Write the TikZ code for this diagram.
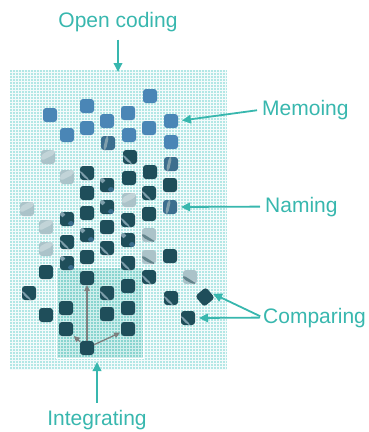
\documentclass[tikz,border=0pt]{standalone}
\usepackage{fontspec}
\setmainfont{Liberation Sans}
\usetikzlibrary{arrows.meta}

\definecolor{tealink}{HTML}{38B7AE}
\definecolor{dotbg}{HTML}{B3E7E5}
\definecolor{boxbg}{HTML}{88D4CF}
\definecolor{sqblue}{HTML}{4A86B6}
\definecolor{sqdark}{HTML}{1F4E5A}
\definecolor{sqmid}{HTML}{3B6E8E}
\definecolor{sqlite}{HTML}{7F9FAC}
\definecolor{sqfade}{HTML}{ABC3C9}
\definecolor{sqpale}{HTML}{C2D4D8}
\definecolor{arrgray}{HTML}{7F7F7F}

\begin{document}
\begin{tikzpicture}[x=1pt,y=-1pt,
  sq/.style={rounded corners=3pt, minimum size=14pt, inner sep=0pt, outer sep=0pt},
  blu/.style={sq, fill=sqblue},
  drk/.style={sq, fill=sqdark},
  shotA/.style={sq, fill=sqdark, path picture={
    \fill[sqlite] ([shift={(-7pt,0pt)}]path picture bounding box.center)
      -- ([shift={(0pt,-7pt)}]path picture bounding box.center)
      -- ([shift={(3pt,-7pt)}]path picture bounding box.center)
      -- ([shift={(-7pt,3pt)}]path picture bounding box.center) -- cycle;}},
  shotB/.style={sq, fill=sqdark, path picture={
    \fill[sqlite] ([shift={(-7pt,7pt)}]path picture bounding box.center)
      rectangle ([shift={(-2pt,2pt)}]path picture bounding box.center);
    \fill[sqmid] ([shift={(1pt,-2pt)}]path picture bounding box.center)
      rectangle ([shift={(7pt,-7pt)}]path picture bounding box.center);}},
  shotC/.style={sq, fill=sqmid, path picture={
    \fill[sqlite] ([shift={(-2pt,7pt)}]path picture bounding box.center)
      -- ([shift={(1pt,7pt)}]path picture bounding box.center)
      -- ([shift={(-2pt,-7pt)}]path picture bounding box.center)
      -- ([shift={(-5pt,-7pt)}]path picture bounding box.center) -- cycle;}},
  fade/.style={sq, fill=sqfade, path picture={
    \fill[sqpale] ([shift={(-7pt,2pt)}]path picture bounding box.center)
      -- ([shift={(2pt,7pt)}]path picture bounding box.center)
      -- ([shift={(7pt,7pt)}]path picture bounding box.center)
      -- ([shift={(7pt,3pt)}]path picture bounding box.center)
      -- ([shift={(-7pt,-4pt)}]path picture bounding box.center) -- cycle;}},
  fadeA/.style={sq, fill=sqfade, path picture={
    \fill[sqdark!70] ([shift={(-7pt,-2pt)}]path picture bounding box.center)
      -- ([shift={(3pt,-7pt)}]path picture bounding box.center)
      -- ([shift={(7pt,-7pt)}]path picture bounding box.center)
      -- ([shift={(-7pt,2pt)}]path picture bounding box.center) -- cycle;}},
  lbl/.style={font=\fontsize{21}{25}\selectfont, text=tealink, inner sep=0pt},
  callout/.style={draw=tealink, line width=1.8pt, -{Triangle[length=9pt,width=8.5pt]}},
  link/.style={draw=arrgray, line width=1.3pt, -{Triangle[length=6pt,width=5.5pt]}}
]
\useasboundingbox (0,0) rectangle (368,432);

% dotted backdrop
\fill[dotbg] (10,70) rectangle (227,370);
\draw[white!85!dotbg, line width=0.5pt, step=3pt] (10,70) grid (227,370);

% highlighted integration area
\fill[boxbg] (56,267) rectangle (143,358);
\draw[white!60!boxbg, line width=0.5pt, step=3pt] (56,267) grid (143,358);
\draw[white, line width=1pt] (56,267) rectangle (143,358);

% memo squares
\node[blu] (b1) at (150,96) {};
\node[blu] (b2) at (87,106) {};
\node[blu] (b3) at (50,115) {};
\node[blu] (b4) at (128,113) {};
\node[blu] (b5) at (107,121) {};
\node[blu] (b6) at (171,121) {};
\node[blu] (b7) at (67,135) {};
\node[blu] (b8) at (87,128) {};
\node[blu] (b9) at (149,128) {};
\node[blu] (b10) at (129,135) {};
\node[blu] (b11) at (171,142) {};

% coded fragments
\node[shotC] (s1) at (108,143) {};
\node[fade] (s2) at (48,157) {};
\node[shotA] (s3) at (130,157) {};
\node[shotC] (s4) at (171,164) {};
\node[drk] (s5) at (150,172) {};
\node[fade] (s6) at (67,177) {};
\node[shotA] (s7) at (87,173) {};
\node[shotB] (s8) at (107,185) {};
\node[drk] (s9) at (129,178) {};
\node[drk] (s10) at (170,185) {};
\node[drk] (s11) at (87,193) {};
\node[shotA] (s12) at (149,193) {};
\node[fade] (s13) at (27,209) {};
\node[shotB] (s14) at (107,207) {};
\node[fade] (s15) at (129,200) {};
\node[shotC] (s16) at (170,207) {};
\node[shotB] (s17) at (67,219) {};
\node[drk] (s18) at (87,213) {};
\node[drk] (s19) at (149,214) {};
\node[fade] (s20) at (46,227) {};
\node[drk] (s21) at (107,227) {};
\node[shotA] (s22) at (128,220) {};
\node[fadeA] (s23) at (149,235) {};
\node[shotA] (s24) at (67,242) {};
\node[shotB] (s25) at (87,235) {};
\node[fade] (s26) at (46,249) {};
\node[shotA] (s27) at (107,248) {};
\node[shotB] (s28) at (128,240) {};
\node[fadeA] (s29) at (149,257) {};
\node[drk] (s30) at (170,256) {};
\node[shotB] (s31) at (67,263) {};
\node[drk] (s32) at (87,257) {};
\node[drk] (s33) at (46,272) {};
\node[shotA] (s34) at (128,263) {};
\node[shotA] (s35) at (149,277) {};
\node[fadeA] (s36) at (190,277) {};
\node[shotA] (s37) at (29,293) {};
\node[drk] (s38) at (87,278) {};
\node[drk] (s39) at (128,286) {};
\node[shotA] (s40) at (107,293) {};
\node[shotA] (s41) at (171,298) {};
\node[drk, rotate=40] (s42) at (205,297) {};
\node[drk] (s43) at (66,308) {};
\node[drk] (s44) at (46,315) {};
\node[drk] (s45) at (107,314) {};
\node[drk] (s46) at (128,308) {};
\node[shotA] (s47) at (188,318) {};
\node[drk] (s48) at (66,329) {};
\node[drk] (s49) at (128,329) {};
\node[drk] (s50) at (87,348) {};

% integration links
\draw[link] (s50) -- (s38);
\draw[link, shorten >=1pt] (s50) -- (s48);
\draw[link, shorten >=1pt] (s50) -- (s49);

% labels
\node[lbl, anchor=base] (open) at (118,27) {Open coding};
\node[lbl, anchor=base west] (memo) at (262,115) {Memoing};
\node[lbl, anchor=base west] (name) at (265,212) {Naming};
\node[lbl, anchor=base west] (comp) at (263,323) {Comparing};
\node[lbl, anchor=base] (integ) at (97,425) {Integrating};

\coordinate (top) at (118,72);
\coordinate (bottom) at (97,362);

\draw[callout, shorten <=8pt] (open.south) -- (top);
\draw[callout, shorten <=5pt, shorten >=4pt] (memo.west) -- (b6.east);
\draw[callout, shorten <=5pt, shorten >=4pt] (name.west) -- (s16.east);
\draw[callout, shorten <=3pt, shorten >=3pt] (comp.west) -- (s42.east);
\draw[callout, shorten <=3pt, shorten >=4pt] (comp.west) -- (s47.east);
\draw[callout, shorten <=7pt] (integ.north) -- (bottom);
\end{tikzpicture}
\end{document}
